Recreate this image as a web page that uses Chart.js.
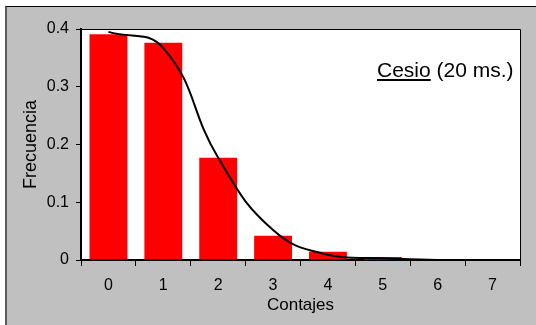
<!DOCTYPE html>
<html>
<head>
<meta charset="utf-8">
<script src="https://cdn.jsdelivr.net/npm/chart.js@4"></script>
<style>
  html, body { margin: 0; padding: 0; background: #fff; }
  #frame {
    position: absolute; left: 5px; top: 6px; width: 529px; height: 318px;
    background: #c0c0c0; border-top: 1px solid #000; border-left: 2px solid #5a5a5a;
  }
  #wrap { position: absolute; left: 0; top: 0; width: 536px; height: 325px; }
  #label {
    position: absolute; left: 377px; top: 58px;
    font-family: "Liberation Sans", Arial, sans-serif; font-size: 21px; color: #000;
    white-space: nowrap;
  }
</style>
</head>
<body>
<div id="frame"></div>
<div id="wrap"><canvas id="myChart" width="536" height="325"></canvas></div>
<div id="label"><u>Cesio</u> (20 ms.)</div>
<script>
const categorias = ['0', '1', '2', '3', '4', '5', '6', '7'];
const frecuencias = [0.391, 0.376, 0.177, 0.042, 0.0144, 0.0052, 0, 0];
const teorica = [0.395, 0.367, 0.177, 0.052, 0.009, 0.003, 0, 0];
const yTicks = [0, 0.1, 0.2, 0.3, 0.4];

const fontFam = '"Liberation Sans", Arial, sans-serif';

const plotBg = {
    id: 'plotBg',
    beforeDraw(chart) {
        const {ctx, chartArea: a} = chart;
        ctx.save();
        ctx.fillStyle = '#fff';
        ctx.fillRect(a.left, a.top, a.right - a.left, a.bottom - a.top);
        ctx.restore();
    },
    afterDatasetsDraw(chart) {
        const {ctx, chartArea: a} = chart;
        ctx.save();
        ctx.strokeStyle = '#000';
        ctx.lineWidth = 1;
        ctx.beginPath();
        ctx.moveTo(a.left, a.top + 0.5);
        ctx.lineTo(a.right + 0.5, a.top + 0.5);
        ctx.lineTo(a.right + 0.5, a.bottom);
        ctx.stroke();
        ctx.restore();
    }
};

var ctx = document.getElementById('myChart').getContext('2d');
var myChart = new Chart(ctx, {
    type: 'bar',
    data: {
        labels: categorias,
        datasets: [{
            type: 'line',
            data: teorica,
            borderColor: '#000',
            borderWidth: 2,
            pointRadius: 0,
            tension: 0.45,
            fill: false,
            order: 0
        }, {
            data: frecuencias,
            backgroundColor: '#ff0000',
            borderWidth: 0,
            categoryPercentage: 1,
            barPercentage: 0.69,
            order: 1
        }]
    },
    options: {
        responsive: false,
        animation: false,
        layout: { padding: { top: 29, right: 16, left: 0, bottom: 0 } },
        plugins: { legend: { display: false }, tooltip: { enabled: false } },
        scales: {
            x: {
                grid: { drawOnChartArea: false, color: '#000', tickLength: 6, tickWidth: 1, offset: true },
                border: { color: '#000', width: 2 },
                ticks: { color: '#000', font: { family: fontFam, size: 16 }, padding: 10, maxRotation: 0, autoSkip: false },
                title: { display: true, text: 'Contajes', color: '#000', font: { family: fontFam, size: 17 }, padding: { top: 0, bottom: 9 } },
                afterFit: (s) => { s.height = 65; }
            },
            y: {
                min: 0, max: 0.4,
                afterBuildTicks: (s) => { s.ticks = yTicks.map(v => ({ value: v })); },
                grid: { drawOnChartArea: false, color: '#000', tickLength: 5, tickWidth: 1 },
                border: { color: '#000', width: 2 },
                ticks: { color: '#000', font: { family: fontFam, size: 16 }, padding: 7, autoSkip: false, callback: (v) => String(v) },
                title: { display: true, text: 'Frecuencia', color: '#000', font: { family: fontFam, size: 18 }, padding: { top: 20, bottom: 0 } },
                afterFit: (s) => { s.width = 81; }
            }
        }
    },
    plugins: [plotBg]
});
</script>
</body>
</html>
